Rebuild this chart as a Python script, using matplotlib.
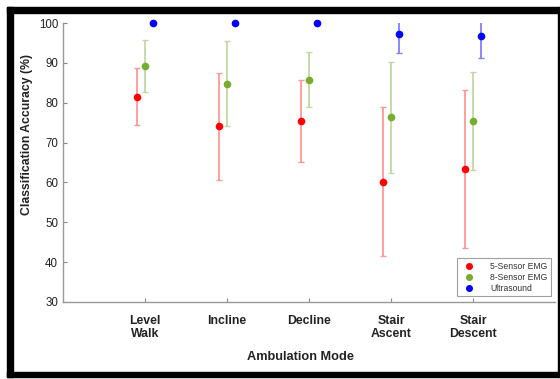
import matplotlib
matplotlib.use("Agg")
import matplotlib.pyplot as plt
from matplotlib.patches import Rectangle
import numpy as np

categories = ["Level\nWalk", "Incline", "Decline", "Stair\nAscent", "Stair\nDescent"]
emg5_mean = [81.5, 74.1, 75.5, 60.2, 63.4]
emg5_err = [7.1, 13.4, 10.3, 18.7, 19.9]
emg8_mean = [89.3, 84.8, 85.7, 76.3, 75.5]
emg8_err = [6.5, 10.6, 6.9, 13.9, 12.3]
us_mean = [100.0, 100.0, 100.0, 97.2, 96.7]
us_err = [0.0, 0.0, 0.0, 4.7, 5.4]
series_names = ["5-Sensor EMG", "8-Sensor EMG", "Ultrasound"]

plt.rcParams['font.family'] = ['Liberation Sans', 'DejaVu Sans']

fig = plt.figure(figsize=(5.6, 3.79), dpi=100)
ax = fig.add_axes([63/560, 1-302/379, (555-63)/560, (302-23)/379])

x = np.arange(1, len(categories) + 1)
offs = [-0.1, 0.0, 0.1]
marker_cols = ['#ff0000', '#77ac30', '#0000ff']
err_cols = ['#ff9999', '#c2d8a4', '#8080ff']
data = [(emg5_mean, emg5_err), (emg8_mean, emg8_err), (us_mean, us_err)]

for (m, e), o, mc, ec, name in zip(data, offs, marker_cols, err_cols, series_names):
    ax.errorbar(x + o, m, yerr=e, fmt='none', ecolor=ec, elinewidth=1.3,
                capsize=2.5, capthick=1.0)
    ax.plot(x + o, m, 'o', color=mc, markersize=4.5, clip_on=False,
            label=name, zorder=5)

ax.set_xlim(0, 6)
ax.set_ylim(30, 100)
ax.set_xticks(x)
ax.set_xticklabels(categories, fontsize=8.8, fontweight='bold', color='#222222')
ax.set_yticks(np.arange(30, 101, 10))
ax.tick_params(axis='y', labelsize=8.3, colors='#888888', labelcolor='#222222',
               direction='in', length=3, width=0.8)
ax.tick_params(axis='x', colors='#888888', labelcolor='#222222',
               direction='in', length=3, width=0.8, pad=9)
for s in ['top', 'right']:
    ax.spines[s].set_visible(False)
for s in ['left', 'bottom']:
    ax.spines[s].set_color('#999999')
    ax.spines[s].set_linewidth(1.0)

ax.set_ylabel("Classification Accuracy (%)", fontsize=8.8, fontweight='bold',
              color='#222222')
ax.yaxis.set_label_coords(-0.073, 0.6)
ax.set_xlabel("Ambulation Mode", fontsize=9.2, fontweight='bold',
              color='#222222')
ax.xaxis.set_label_coords(0.482, -0.197)
ax.xaxis.label.set_verticalalignment('center')
ax.yaxis.label.set_verticalalignment('center')

leg = ax.legend(loc='lower right', fontsize=6.2, frameon=True, fancybox=False,
                edgecolor='#888888', borderpad=0.4, handletextpad=1.4,
                labelspacing=0.25, markerscale=0.9,
                bbox_to_anchor=(1.0, 0.005))
leg.get_frame().set_linewidth(0.8)
for t in leg.get_texts():
    t.set_color('#333333')

W, H = 560, 379
def frect(x0, y0, w, h):
    fig.patches.append(Rectangle((x0/W, 1-(y0+h)/H), w/W, h/H,
                                 transform=fig.transFigure, color='black',
                                 zorder=10))
frect(7, 7, 552, 6)     # top
frect(7, 7, 6, 370)     # left
frect(7, 372, 552, 5)   # bottom
frect(557.5, 7, 1.5, 370)  # right

fig.savefig("out.png", dpi=100)
